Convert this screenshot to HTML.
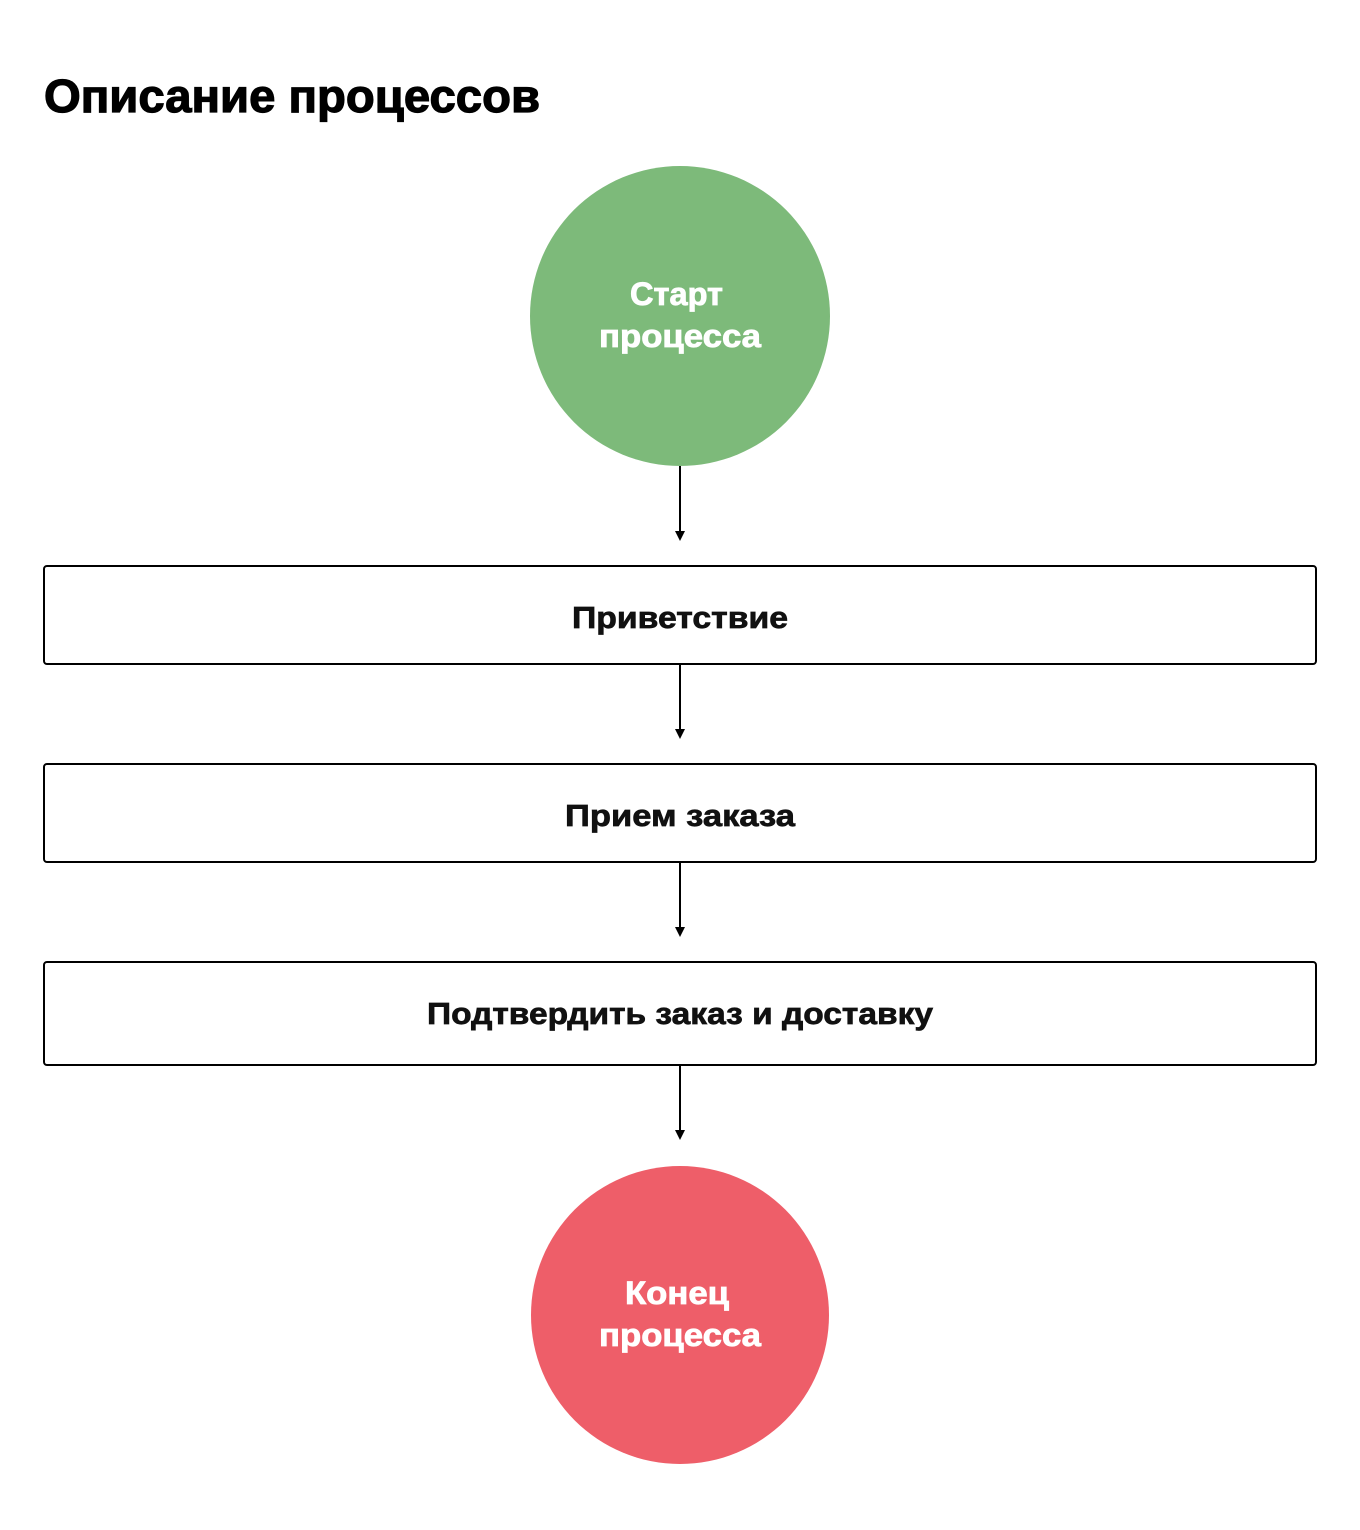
<!DOCTYPE html>
<html><head><meta charset="utf-8"><style>html,body{margin:0;padding:0;background:#fff}svg{display:block}</style></head>
<body>
<svg width="1360" height="1530" viewBox="0 0 1360 1530" xmlns="http://www.w3.org/2000/svg" font-family="Liberation Sans, sans-serif" font-weight="bold">
<text x="44" y="112" font-size="46" textLength="496" lengthAdjust="spacingAndGlyphs" fill="#000" stroke="#000" stroke-width="1.2">Описание процессов</text>
<circle cx="680" cy="316" r="150" fill="#7dba7a"/>
<g fill="#fff" stroke="#fff" stroke-width="0.8">
<text x="630" y="305" font-size="32" textLength="93" lengthAdjust="spacingAndGlyphs">Старт</text>
<text x="599" y="347" font-size="32" textLength="162" lengthAdjust="spacingAndGlyphs">процесса</text>
</g>
<g stroke="#000" stroke-width="2">
<line x1="680" y1="466" x2="680" y2="532"/>
<line x1="680" y1="664" x2="680" y2="730"/>
<line x1="680" y1="862" x2="680" y2="928"/>
<line x1="680" y1="1065" x2="680" y2="1131"/>
</g>
<g fill="#000">
<polygon points="675,531 685,531 680,541"/>
<polygon points="675,729 685,729 680,739"/>
<polygon points="675,927 685,927 680,937"/>
<polygon points="675,1130 685,1130 680,1140"/>
</g>
<g fill="#fff" stroke="#000" stroke-width="2">
<rect x="44" y="566" width="1272" height="98" rx="3"/>
<rect x="44" y="764" width="1272" height="98" rx="3"/>
<rect x="44" y="962" width="1272" height="103" rx="3"/>
</g>
<g font-size="31" fill="#111" stroke="#111" stroke-width="0.7">
<text x="572" y="628" textLength="216" lengthAdjust="spacingAndGlyphs">Приветствие</text>
<text x="565" y="826" textLength="230" lengthAdjust="spacingAndGlyphs">Прием заказа</text>
<text x="427" y="1024" textLength="506" lengthAdjust="spacingAndGlyphs">Подтвердить заказ и доставку</text>
</g>
<circle cx="680" cy="1315" r="149" fill="#ee5e69"/>
<g fill="#fff" stroke="#fff" stroke-width="0.8">
<text x="625" y="1304" font-size="32" textLength="104" lengthAdjust="spacingAndGlyphs">Конец</text>
<text x="599" y="1346" font-size="32" textLength="162" lengthAdjust="spacingAndGlyphs">процесса</text>
</g>
</svg>
</body></html>
